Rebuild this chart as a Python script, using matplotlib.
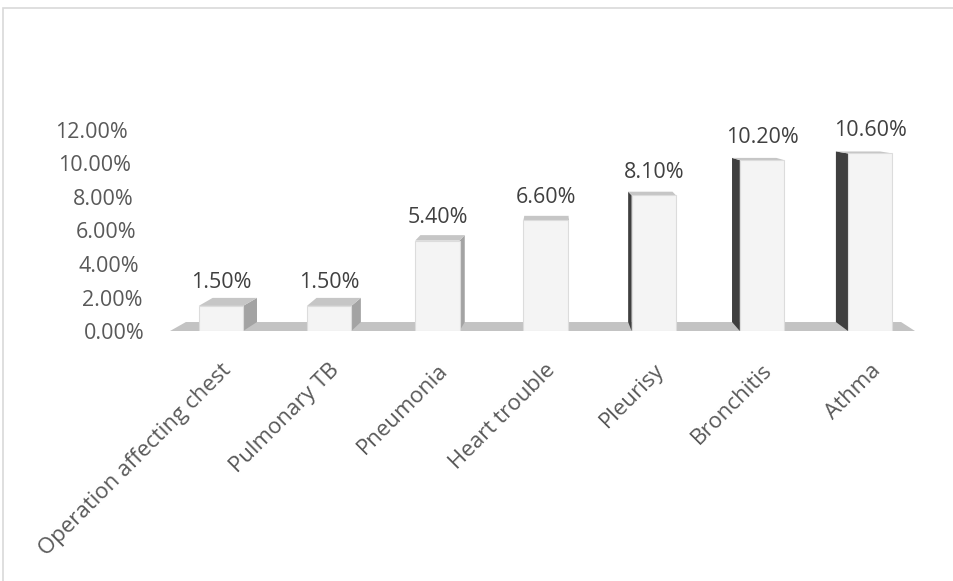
import matplotlib
matplotlib.use("Agg")
import matplotlib.pyplot as plt
from matplotlib.patches import Polygon, Rectangle
from matplotlib.transforms import ScaledTranslation

categories = ["Operation affecting chest", "Pulmonary TB", "Pneumonia",
              "Heart trouble", "Pleurisy", "Bronchitis", "Athma"]
values = [0.015, 0.015, 0.054, 0.066, 0.081, 0.102, 0.106]
yticks = [0.0, 0.02, 0.04, 0.06, 0.08, 0.10, 0.12]
ytick_labels = ["0.00%", "2.00%", "4.00%", "6.00%", "8.00%", "10.00%", "12.00%"]

plt.rcParams['font.family'] = ['Open Sans', 'DejaVu Sans']

W, H = 954, 581
fig = plt.figure(figsize=(W / 100, H / 100), dpi=100)
ax = fig.add_axes([170 / W, 250 / H, 745 / W, 201 / H])
xmin, xmax = -0.471, 6.414
ax.set_xlim(xmin, xmax)
ax.set_ylim(0, 0.12)
for s in ax.spines.values():
    s.set_visible(False)
ax.patch.set_alpha(0)

# pseudo-3D perspective parameters
vc = 3.2          # vanishing column (in category units)
kx = 0.04         # lateral shift per category distance
ky = 0.0394       # vertical top visibility factor
eye = 0.136
bw = 0.41

def dxo(x):
    return kx * (vc - x)

def dyo(h):
    return ky * (eye - h)

# floor
d0 = dyo(0)
floor = Polygon([(xmin, 0), (xmax, 0), (xmax + dxo(xmax), d0), (xmin + dxo(xmin), d0)],
                closed=True, fc='#c3c3c3', ec='none', zorder=1)
ax.add_patch(floor)

xs = list(range(len(categories)))
for x, v in zip(xs, values):
    x0, x1 = x - bw / 2, x + bw / 2
    dx = dxo(x)
    dy = dyo(v)
    if dx > 0:
        side = [(x1, 0), (x1, v), (x1 + dx, v + dy), (x1 + dx, d0)]
        sc = '#a3a3a3'
    else:
        side = [(x0, 0), (x0, v), (x0 + dx, v + dy), (x0 + dx, d0)]
        sc = '#3f3f3f'
    ax.add_patch(Polygon(side, closed=True, fc=sc, ec='none', zorder=2))
    top = [(x0, v), (x1, v), (x1 + dx, v + dy), (x0 + dx, v + dy)]
    ax.add_patch(Polygon(top, closed=True, fc='#c6c6c6', ec='none', zorder=2))

ax.bar(xs, values, width=bw, color='#f4f4f4', edgecolor='#dcdcdc', linewidth=0.8, zorder=3)

for x, v in zip(xs, values):
    ax.annotate(f"{v*100:.2f}%", (x, v), xytext=(0, 16.5), textcoords='offset points',
                ha='center', va='center', fontsize=15.5, color='#404040', zorder=4)

# x tick labels
ax.set_xticks(xs, labels=categories)
ax.tick_params(axis='x', length=0, pad=26, labelsize=16, labelcolor='#595959')
for t in ax.xaxis.get_major_ticks():
    lab = t.label1
    lab.set_rotation(45)
    lab.set_rotation_mode('anchor')
    lab.set_ha('right')
    lab.set_va('center')
    lab.set_transform(lab.get_transform() + ScaledTranslation(7 / 100, 0, fig.dpi_scale_trans))

# y tick labels
ax.set_yticks(yticks, labels=ytick_labels)
ax.tick_params(axis='y', length=0, pad=0, labelsize=15.5, labelcolor='#595959')
for t, v in zip(ax.yaxis.get_major_ticks(), yticks):
    lab = t.label1
    shift = -(25 + 17 * (v / 0.12))
    lab.set_transform(lab.get_transform() + ScaledTranslation(shift / 100, 0, fig.dpi_scale_trans))

# outer frame
fig.add_artist(Rectangle((3 / W, -0.1), 1.2, 1 - 8 / H + 0.1, transform=fig.transFigure,
                         fill=False, ec='#d9d9d9', lw=1.2))

fig.savefig("out.png", dpi=100)
